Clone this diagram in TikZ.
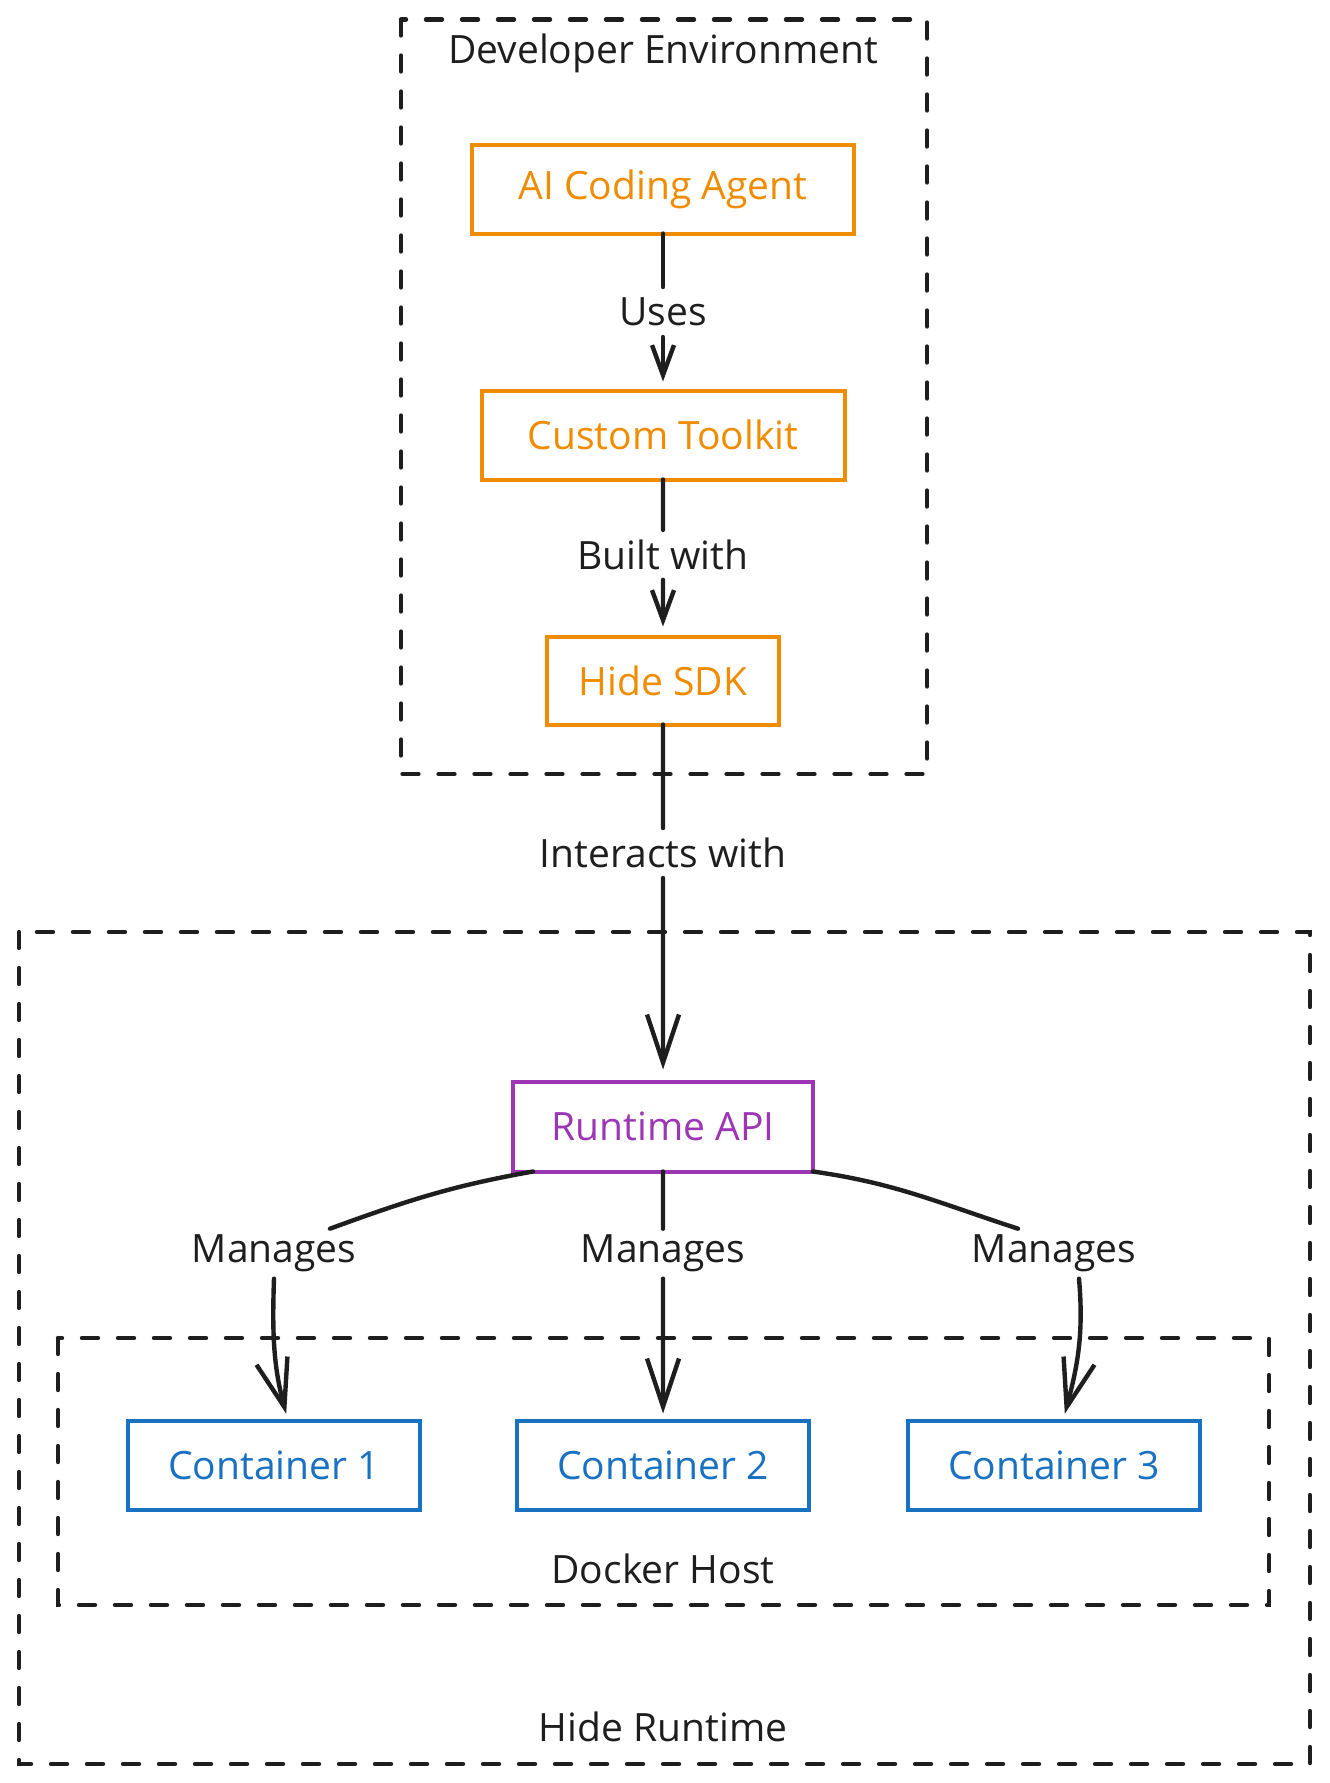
\documentclass[tikz,border=0pt]{standalone}
\usepackage{fontspec}
\setmainfont{Open Sans}
\usetikzlibrary{arrows.meta,positioning,calc}
\definecolor{ink}{RGB}{30,30,30}
\definecolor{agentorange}{RGB}{240,140,0}
\definecolor{apiviolet}{RGB}{156,54,181}
\definecolor{hostblue}{RGB}{25,113,194}

\begin{document}
\begin{tikzpicture}[
  comp/.style={
    draw,
    line width=2pt,
    fill=white,
    inner sep=0pt,
    outer sep=0pt,
    minimum height=44.5pt,
    font=\fontsize{19.5}{23}\selectfont
  },
  devcomp/.style={comp,draw=agentorange,text=agentorange},
  apicomp/.style={comp,draw=apiviolet,text=apiviolet},
  hostcomp/.style={comp,draw=hostblue,text=hostblue,minimum width=146pt},
  lbl/.style={
    text=ink,
    inner sep=0pt,
    outer sep=0pt,
    minimum height=25pt,
    font=\fontsize{19.5}{23}\selectfont
  },
  groupframe/.style={
    draw=ink,
    line width=2.2pt,
    dash pattern=on 8pt off 10pt,
    line cap=round
  },
  link/.style={draw=ink,line width=2.2pt,line cap=round},
  shortarrow/.style={link,-{Straight Barb[length=15pt,width=11pt]}},
  longarrow/.style={link,-{Straight Barb[length=24pt,width=16pt]}}
]
\useasboundingbox (0,0) rectangle (664.5pt,-891.5pt);

\node[devcomp,minimum width=191pt] (agent) at (331.5pt,-94.5pt) {AI Coding Agent};
\node[devcomp,minimum width=181.5pt,below=78.5pt of agent] (toolkit) {Custom Toolkit};
\node[devcomp,minimum width=116pt,minimum height=44pt,below=78.5pt of toolkit]
  (sdk) {Hide SDK};
\node[apicomp,minimum width=150pt,minimum height=45pt,below=178.5pt of sdk]
  (api) {Runtime API};
\node[hostcomp,below=124.5pt of api] (cont2) {Container 2};
\node[hostcomp,left=48.5pt of cont2] (cont1) {Container 1};
\node[hostcomp,right=49.5pt of cont2] (cont3) {Container 3};

\node[lbl] (uses) at ($(agent.south)!.5!(toolkit.north)$) {Uses};
\node[lbl] (builtwith) at ($(toolkit.south)!.48!(sdk.north)$) {Built with};
\node[lbl] (interacts) at ($(sdk.south)!.36!(api.north)$) {Interacts with};
\node[lbl] (manages1) at ($(cont1.north)!.67!(cont1.north |- api.south)$) {Manages};
\node[lbl] (manages2) at ($(cont2.north)!.67!(api.south)$) {Manages};
\node[lbl] (manages3) at ($(cont3.north)!.67!(cont3.north |- api.south)$) {Manages};

% group frames
\coordinate (devnw) at ($(agent.north west)+(-35.5pt,62.5pt)$);
\coordinate (devse) at ($(agent.east |- sdk.south)+(36.5pt,-24.75pt)$);
\draw[groupframe] (devnw) rectangle (devse);
\node[lbl] (devtitle) at ($(devnw -| agent)+(0,-17pt)$) {Developer Environment};

\coordinate (hostnw) at ($(cont1.north west)+(-35pt,41.25pt)$);
\coordinate (hostse) at ($(cont3.south east)+(34.5pt,-47.75pt)$);
\draw[groupframe] (hostnw) rectangle (hostse);
\node[lbl] (hosttitle) at ($(hostse -| cont2)+(0,18pt)$) {Docker Host};

\coordinate (rtnw) at ($(cont1.west |- api.north)+(-54.5pt,74.75pt)$);
\coordinate (rtse) at ($(hostse)+(20.5pt,-79.5pt)$);
\draw[groupframe] (rtnw) rectangle (rtse);
\node[lbl] (rttitle) at ($(rtse -| cont2)+(0,18.5pt)$) {Hide Runtime};

% connectors
\draw[link] (agent.south) -- (uses.north);
\draw[shortarrow,shorten >=4.5pt] (uses.south) -- (toolkit.north);
\draw[link] (toolkit.south) -- (builtwith.north);
\draw[shortarrow,shorten >=5pt] (builtwith.south) -- (sdk.north);
\draw[link] (sdk.south) -- (interacts.north);
\draw[longarrow,shorten >=6pt] (interacts.south) -- (api.north);

\draw[link] ($(api.south west)+(10pt,0)$) to[out=190,in=20]
  ($(manages1.north)+(28pt,0)$);
\draw[longarrow,shorten >=3.5pt] (manages1.south) to[out=-92,in=105]
  ($(cont1.north)+(7pt,0)$);
\draw[link] (api.south) -- (manages2.north);
\draw[longarrow,shorten >=3.5pt] (manages2.south) -- (cont2.north);
\draw[link] (api.south east) to[out=-8,in=162]
  ($(manages3.north)+(-18pt,0)$);
\draw[longarrow,shorten >=3.5pt] ($(manages3.south)+(12.5pt,0)$)
  to[out=-85,in=75] ($(cont3.north)+(4.5pt,0)$);
\end{tikzpicture}
\end{document}
